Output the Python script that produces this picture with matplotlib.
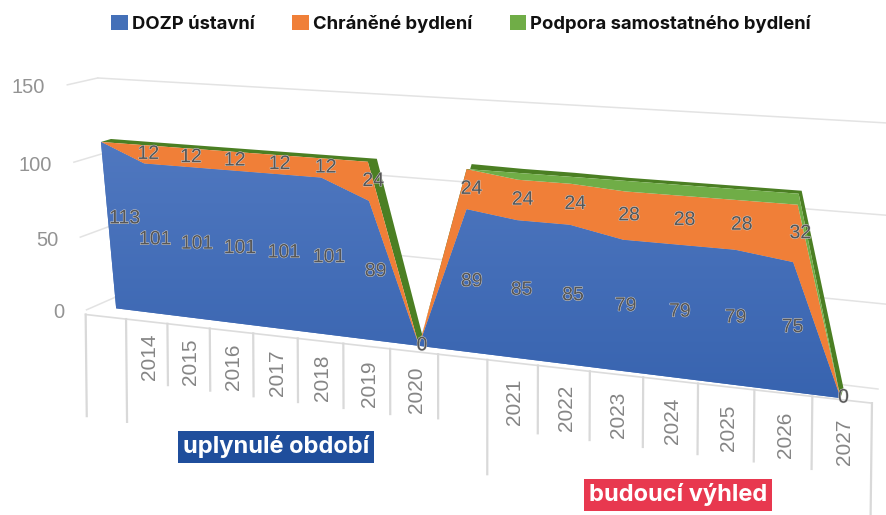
import numpy as np
import matplotlib
matplotlib.use("Agg")
import matplotlib.pyplot as plt
from matplotlib.colors import LinearSegmentedColormap
from matplotlib.transforms import Transform
import matplotlib.patheffects as pe

# ---- data ----
years = ["", "2014", "2015", "2016", "2017", "2018", "2019", "2020",
         "", "2021", "2022", "2023", "2024", "2025", "2026", "2027"]
dozp = [113, 101, 101, 101, 101, 101, 89, 0, 89, 85, 85, 79, 79, 79, 75, 0]
chranene = [0, 12, 12, 12, 12, 12, 24, 0, 24, 24, 24, 28, 28, 28, 32, 0]
podpora = [0, 0, 0, 0, 0, 0, 0, 0, 0, 4, 4, 6, 6, 6, 6, 0]
series_names = ["DOZP ústavní", "Chráněné bydlení", "Podpora samostatného bydlení"]
y_ticks = [0, 50, 100, 150]
tick_lengths = [112, 112, 66, 66, 66, 66, 66, 66, 64, 113, 66, 66, 66, 66, 66, 66, 106]

# ---- perspective calibration ----
def fit_h(src, dst):
    A, b = [], []
    for (x, y), (u, v) in zip(src, dst):
        A.append([x, y, 1, 0, 0, 0, -u * x, -u * y]); b.append(u)
        A.append([0, 0, 0, x, y, 1, -v * x, -v * y]); b.append(v)
    s = np.linalg.lstsq(np.array(A, float), np.array(b, float), rcond=None)[0]
    return np.append(s, 1).reshape(3, 3)

class Persp(Transform):
    input_dims = output_dims = 2
    is_affine = False
    has_inverse = False
    def __init__(self, H):
        super().__init__()
        self.H = H
    def transform_non_affine(self, values):
        v = np.asarray(values, float)
        p = np.c_[v, np.ones(len(v))] @ self.H.T
        return p[:, :2] / p[:, 2:]

H_front = fit_h(
    [(0, 0), (0, 113), (7, 0), (15, 0), (14, 75), (14, 113), (1, 101), (1, 113),
     (6, 89), (6, 113), (8, 89), (9, 85), (10, 85), (11, 79), (5, 101)],
    [(116, 309), (103, 142), (420, 345), (840, 398), (795, 263), (798, 194), (140, 163), (143, 147),
     (368, 200), (368, 160), (468, 210), (513, 220), (570, 226), (623, 240), (325, 177)])
H_side = fit_h(
    [(0, 0), (0, 50), (0, 100), (0, 150), (1, 0), (1, 50), (1, 100), (1, 150)],
    [(86, 310), (81, 237), (74, 162), (67, 85), (115, 297), (110, 227), (103, 153), (98, 78)])
H_back = fit_h([(0, 0), (0, 150), (1, 0), (1, 150)],
               [(115, 297), (98, 78), (878, 389), (905, 124)])
ax_t = [0, 4, 8, 12, 16]
ax_x = [87, 253, 437, 643, 872]
H_axis = fit_h([(t, d) for t in ax_t for d in (0, 100)],
               [(x, 310 + .126 * (x - 87) + d) for x in ax_x for d in (0, 100)])

# ---- figure ----
BODY = ["Liberation Sans", "DejaVu Sans"]
HEAD = ["Inter", "DejaVu Sans"]
fig = plt.figure(figsize=(8.87, 5.15), dpi=100)
ax = fig.add_axes([0, 0, 1, 1])
ax.set_xlim(0, 887); ax.set_ylim(515, 0); ax.axis("off")
T = ax.transData
front, side, back, axis = Persp(H_front) + T, Persp(H_side) + T, Persp(H_back) + T, Persp(H_axis) + T

GRID = "#e3e3e3"
for v in y_ticks:
    ax.plot([0, 1], [v, v], transform=back, color=GRID, lw=1.1, zorder=1)
    ax.plot([0, 1], [v, v], transform=side, color=GRID, lw=1.1, zorder=1)
    ax.annotate(str(v), xy=(0, v), xycoords=side, xytext=(-22, -3), textcoords="offset pixels",
                ha="right", va="center", fontsize=14.5, color="#939393", family=BODY)

# area faces
x = np.arange(len(dozp))
total = np.array(dozp) + np.array(chranene) + np.array(podpora)
depth_dx = np.array([10, 9, 9, 9, 9, 9, 9, 3, 5, 5, 4, 4, 4, 4, 3, 3], float)
depth_dy = np.array([-3, -3, -3, -3, -3, -3, -3, -12, -5, -4, -4, -3, -3, -3, -3, -10], float)
top_px = Persp(H_front).transform(np.c_[x, total])
back_px = top_px + np.c_[depth_dx, depth_dy]
ax.fill(np.r_[top_px[:, 0], back_px[::-1, 0]], np.r_[top_px[:, 1], back_px[::-1, 1]],
        color="#4b7f23", lw=0, zorder=2)

colors = ["#4470b8", "#f07f38", "#70ad47"]
polys = ax.stackplot(x, dozp, chranene, podpora, colors=colors, transform=front, lw=0, zorder=3,
                     labels=series_names)
cmap = LinearSegmentedColormap.from_list("b", ["#5078c0", "#3763af"])
im = ax.imshow(np.linspace(0, 1, 256)[:, None], extent=(90, 860, 405, 140), cmap=cmap,
               aspect="auto", zorder=3.5)
im.set_clip_path(polys[0].get_paths()[0], polys[0].get_transform())
ax.set_xlim(0, 887); ax.set_ylim(515, 0)

# value labels
label_style = dict(ha="center", va="center", fontsize=14, color="#565656", family=BODY, zorder=6,
                   path_effects=[pe.withStroke(linewidth=0.7, foreground="#d0d0d0")])
def lab(i, y, s, dx=5, dy=0):
    ax.annotate(s, xy=(i, y), xycoords=front, xytext=(dx, dy), textcoords="offset pixels", **label_style)
for i, (a, b) in enumerate(zip(dozp, chranene)):
    if a == 0:
        lab(i, 0, "0", 3, 0)
        continue
    lab(i, a / 2, str(a), 16 if i == 0 else 5, 8 if i == 0 else 0)
    if b:
        lab(i, a + b / 2, str(b))

# multi-level category axis
ax.plot([0, 16], [0, 0], transform=axis, color="#dcdcdc", lw=1.2, zorder=2)
for t, d in enumerate(tick_lengths):
    ax.plot([t, t], [0, d], transform=axis, color="#d9d9d9", lw=1.6, zorder=2)
for t, s in enumerate(years):
    if s:
        ax.text(t + .55, 38, s, transform=axis, rotation=90, ha="center", va="center",
                fontsize=15, color="#858585", family=BODY)

# legend
leg = ax.legend(handles=polys, loc="center", bbox_to_anchor=(461 / 887, 1 - 24 / 515), ncol=3,
                frameon=False, prop={"family": HEAD, "weight": "bold", "size": 13.25},
                handlelength=.9, handleheight=.9, handletextpad=.22, columnspacing=2.05,
                labelcolor="#111111", borderpad=0, borderaxespad=0)

# period tags
ax.text(276, 447, "uplynulé období", ha="center", va="center", fontsize=17, weight="bold",
        color="white", family=HEAD, zorder=7,
        bbox=dict(boxstyle="square,pad=0.2", fc="#1f4e9c", ec="none"))
ax.text(678, 495, "budoucí výhled", ha="center", va="center", fontsize=17, weight="bold",
        color="white", family=HEAD, zorder=7,
        bbox=dict(boxstyle="square,pad=0.2", fc="#e8384f", ec="none"))

fig.savefig("out.png", dpi=100)
